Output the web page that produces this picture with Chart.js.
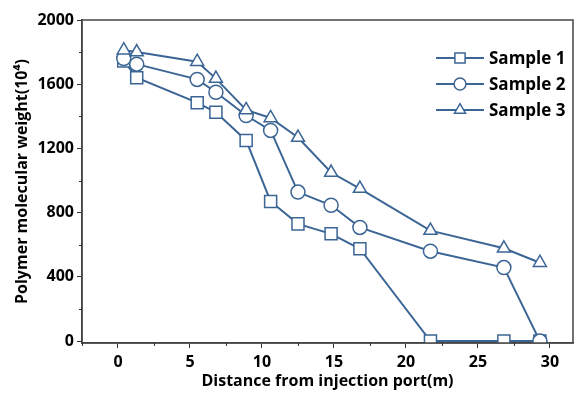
<!DOCTYPE html>
<html>
<head>
<meta charset="utf-8">
<script src="https://cdn.jsdelivr.net/npm/chart.js@4.4.1/dist/chart.umd.min.js"></script>
<style>
  html, body { margin: 0; padding: 0; background: #fff; }
  #wrap { width: 583px; height: 395px; }
</style>
</head>
<body>
<div id="wrap"><canvas id="chart"></canvas></div>
<script>
// distance from injection port (m)
var distance = [0.4, 1.3, 5.5, 6.8, 8.9, 10.6, 12.5, 14.8, 16.8, 21.7, 26.8, 29.3];
// molecular weight (10^4)
var sample1 = [1745, 1640, 1485, 1425, 1250, 870, 730, 668, 575, 0, 0, 0];
var sample2 = [1760, 1725, 1630, 1550, 1405, 1312, 928, 846, 708, 560, 458, 0];
var sample3 = [1812, 1800, 1740, 1635, 1440, 1390, 1268, 1050, 950, 688, 578, 488];
var seriesNames = ["Sample 1", "Sample 2", "Sample 3"];
var xTicks = [0, 5, 10, 15, 20, 25, 30];
var yTicks = [0, 400, 800, 1200, 1600, 2000];

var blue = "#3b6595";
var font = "'Open Sans', 'DejaVu Sans', sans-serif";

function pts(ys) {
    return ys.map(function (y, i) { return {x: distance[i], y: y}; });
}

function makeSet(label, ys, style, r, order) {
    return {
        label: label,
        data: pts(ys),
        order: order,
        borderColor: blue,
        borderWidth: 2,
        backgroundColor: "#fff",
        pointStyle: style,
        pointRadius: r,
        pointBorderWidth: 1.5,
        pointBorderColor: blue,
        pointBackgroundColor: "#fff",
        tension: 0
    };
}

// frame, minor ticks and legend
var extras = {
    id: "extras",
    afterDraw: function (chart) {
        var ctx = chart.ctx, a = chart.chartArea;
        var xs = chart.scales.x, ys = chart.scales.y;
        ctx.save();
        ctx.strokeStyle = "#444";
        ctx.lineWidth = 1.5;
        ctx.strokeRect(a.left, a.top, a.right - a.left, a.bottom - a.top);

        ctx.lineWidth = 1;
        ctx.strokeStyle = "#333";
        ctx.beginPath();
        for (var v = -2.5; v <= 31; v += 5) {
            var px = Math.round(xs.getPixelForValue(v)) + 0.5;
            ctx.moveTo(px, a.bottom); ctx.lineTo(px, a.bottom + 3);
        }
        for (var w = 200; w < 2000; w += 400) {
            var py = Math.round(ys.getPixelForValue(w)) + 0.5;
            ctx.moveTo(a.left, py); ctx.lineTo(a.left - 3, py);
        }
        ctx.stroke();

        // legend
        var lx = a.right - 137, ly = a.top + 38;
        chart.data.datasets.forEach(function (ds, i) {
            var y = ly + i * 26;
            ctx.strokeStyle = blue;
            ctx.lineWidth = 2;
            ctx.beginPath();
            ctx.moveTo(lx, y); ctx.lineTo(lx + 48, y);
            ctx.stroke();
            ctx.fillStyle = "#fff";
            ctx.lineWidth = 1.5;
            Chart.helpers.drawPoint(ctx, {pointStyle: ds.pointStyle, radius: ds.pointRadius * 0.85, borderWidth: 1.5}, lx + 24, y);
            ctx.fillStyle = "#000";
            ctx.font = "bold 17px " + font;
            ctx.textBaseline = "middle";
            ctx.fillText(ds.label, lx + 53, y + 1);
        });
        ctx.restore();
    }
};

new Chart(document.getElementById("chart"), {
    type: "line",
    data: {
        datasets: [
            makeSet(seriesNames[0], sample1, "rect", 8.5, 2),
            makeSet(seriesNames[1], sample2, "circle", 7, 1),
            makeSet(seriesNames[2], sample3, "triangle", 7.5, 0)
        ]
    },
    options: {
        responsive: true,
        maintainAspectRatio: false,
        animation: false,
        layout: {padding: {top: 20, right: 8, left: 0, bottom: 0}},
        plugins: {legend: {display: false}, tooltip: {enabled: false}},
        scales: {
            x: {
                type: "linear",
                min: -2.5,
                max: 31.6,
                afterBuildTicks: function (s) { s.ticks = xTicks.map(function (v) { return {value: v}; }); },
                afterFit: function (s) { s.height = 52; },
                grid: {display: true, drawOnChartArea: false, tickLength: 5, color: "#333"},
                border: {display: true, color: "#444", width: 1.5},
                ticks: {color: "#000", font: {family: font, size: 16, weight: "bold"}, padding: 5, maxRotation: 0,
                        callback: function (v) { return String(v); }},
                title: {display: true, text: "Distance from injection port(m)", color: "#000",
                        font: {family: font, size: 16, weight: "bold"}, padding: {top: 4}}
            },
            y: {
                min: -12,
                max: 2000,
                afterBuildTicks: function (s) { s.ticks = yTicks.map(function (v) { return {value: v}; }); },
                afterFit: function (s) { s.width = 82; },
                grid: {display: true, drawOnChartArea: false, tickLength: 5, color: "#333"},
                border: {display: true, color: "#444", width: 1.5},
                ticks: {color: "#000", font: {family: font, size: 16, weight: "bold"}, padding: 3,
                        callback: function (v) { return String(v); }},
                title: {display: true, text: "Polymer molecular weight(10\u2074)", color: "#000",
                        font: {family: font, size: 16, weight: "bold"}, padding: {top: 13, bottom: 2}}
            }
        }
    },
    plugins: [extras]
});
</script>
</body>
</html>
